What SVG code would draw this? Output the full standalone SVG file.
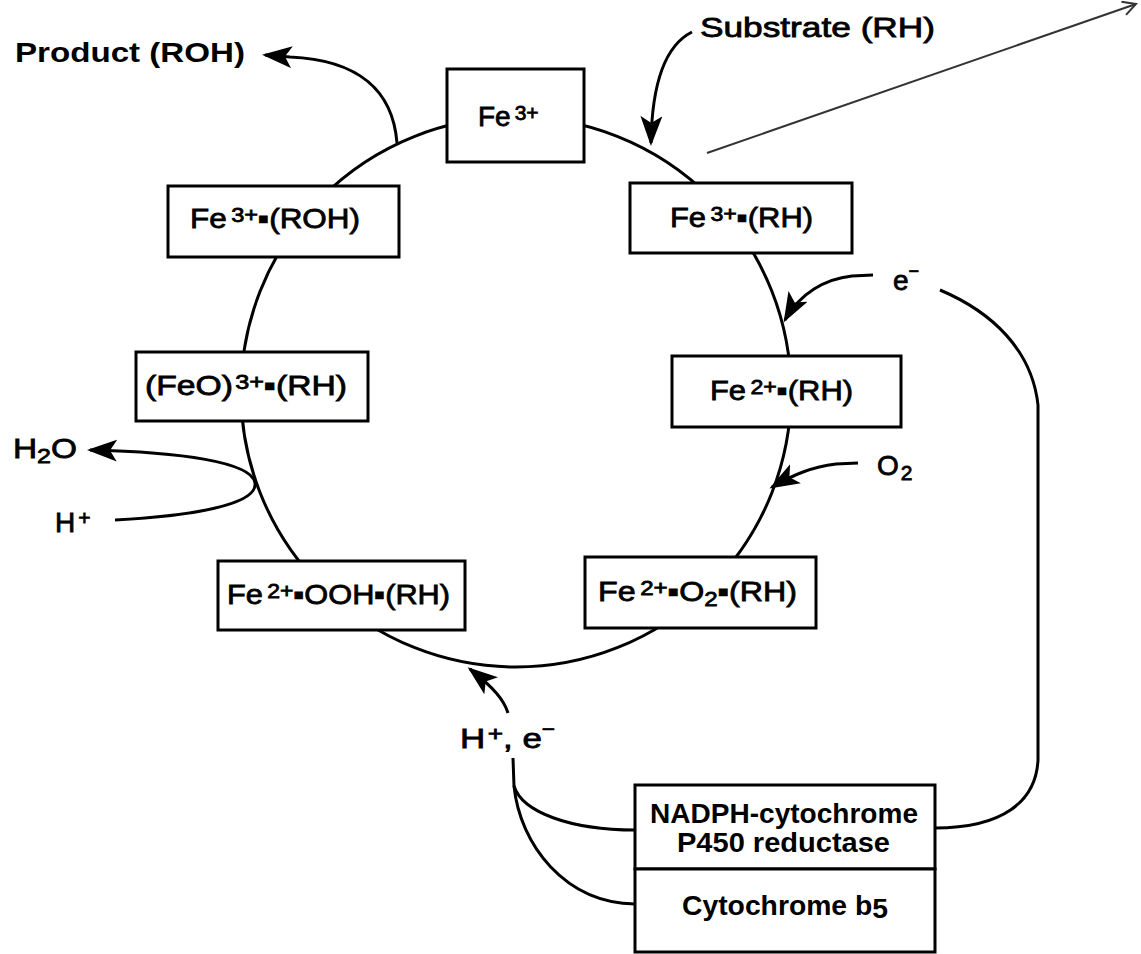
<svg xmlns="http://www.w3.org/2000/svg" width="1141" height="954" viewBox="0 0 1141 954">
<style>
  .box { fill: #fff; stroke: #000; stroke-width: 3; }
  .lbl { font-family: "Liberation Sans", Arial, sans-serif; font-size: 28px; fill: #000; stroke: #000; stroke-width: 0.8; }
  .bold { font-weight: bold; stroke: none; }
  .conn { fill: none; stroke: #000; stroke-width: 3; }
  .sup { font-size: 21px; }
</style>
<defs>
  <marker id="ah" markerUnits="userSpaceOnUse" markerWidth="32" markerHeight="24" refX="27" refY="11" orient="auto">
    <path d="M0,0 L30,11 L0,22 L7,11 Z" fill="#000"/>
  </marker>
  <marker id="open" markerUnits="userSpaceOnUse" markerWidth="20" markerHeight="20" refX="14" refY="8" orient="auto">
    <path d="M1,1 L14,8 L1,15" fill="none" stroke="#333" stroke-width="2"/>
  </marker>
</defs>

<g id="connectors">
  <circle class="conn" cx="516" cy="392" r="275"/>
  <path class="conn" d="M397,143 C393,92 360,60 290,57 L265,55" marker-end="url(#ah)"/>
  <path class="conn" d="M692,32 C668,44 652,78 651,143" marker-end="url(#ah)"/>
  <path d="M707,153 L1136,4" fill="none" stroke="#333" stroke-width="2" marker-end="url(#open)"/>
  <path class="conn" d="M873,275 L852,276 C825,279 800,293 785,320" marker-end="url(#ah)"/>
  <path class="conn" d="M940,290 C992,312 1032,350 1038,405 L1038,760 C1036,802 1002,828 935,828"/>
  <path class="conn" d="M858,463 L836,464 C812,467 795,474 772,487" marker-end="url(#ah)"/>
  <path class="conn" d="M115,520 C190,516 258,505 255,483 C252,462 180,452 90,450" marker-end="url(#ah)"/>
  <path class="conn" d="M508,713 C504,700 494,688 470,669" marker-end="url(#ah)"/>
  <path class="conn" d="M513,758 L514,786 C522,812 570,830 635,830"/>
  <path class="conn" d="M514,786 C520,845 565,903 635,904"/>
</g>

<g id="n-fe3">
  <rect class="box" x="447" y="69" width="137" height="93"/>
  <text class="lbl" x="478" y="126">Fe<tspan class="sup" dx="4" dy="-6">3+</tspan></text>
</g>
<g id="n-fe3-rh">
  <rect class="box" x="630" y="183" width="222" height="70"/>
  <text class="lbl" x="670" y="227" textLength="143" lengthAdjust="spacingAndGlyphs">Fe<tspan class="sup" dx="4" dy="-6">3+</tspan><tspan dy="6">▪(RH)</tspan></text>
</g>
<g id="n-fe2-rh">
  <rect class="box" x="672" y="356" width="229" height="71"/>
  <text class="lbl" x="710" y="400" textLength="143" lengthAdjust="spacingAndGlyphs">Fe<tspan class="sup" dx="4" dy="-6">2+</tspan><tspan dy="6">▪(RH)</tspan></text>
</g>
<g id="n-fe2-o2-rh">
  <rect class="box" x="585" y="557" width="231" height="71"/>
  <text class="lbl" x="598" y="601" textLength="199" lengthAdjust="spacingAndGlyphs">Fe<tspan class="sup" dx="4" dy="-6">2+</tspan><tspan dy="6">▪O</tspan><tspan class="sup" dy="5">2</tspan><tspan dy="-5">▪(RH)</tspan></text>
</g>
<g id="n-fe2-ooh-rh">
  <rect class="box" x="218" y="561" width="247" height="69"/>
  <text class="lbl" x="227" y="604" textLength="223" lengthAdjust="spacingAndGlyphs">Fe<tspan class="sup" dx="4" dy="-6">2+</tspan><tspan dy="6">▪OOH▪(RH)</tspan></text>
</g>
<g id="n-feo-rh">
  <rect class="box" x="136" y="352" width="232" height="69"/>
  <text class="lbl" x="145" y="395" textLength="202" lengthAdjust="spacingAndGlyphs">(FeO)<tspan class="sup" dx="2" dy="-6">3+</tspan><tspan dy="6">▪(RH)</tspan></text>
</g>
<g id="n-fe3-roh">
  <rect class="box" x="168" y="186" width="231" height="71"/>
  <text class="lbl" x="190" y="228" textLength="170" lengthAdjust="spacingAndGlyphs">Fe<tspan class="sup" dx="4" dy="-6">3+</tspan><tspan dy="6">▪(ROH)</tspan></text>
</g>
<g id="n-reductase">
  <rect class="box" x="635" y="785" width="300" height="84"/>
  <text class="lbl bold" x="650" y="823" font-size="25" textLength="268" lengthAdjust="spacingAndGlyphs">NADPH-cytochrome</text>
  <text class="lbl bold" x="677" y="852" font-size="25" textLength="213" lengthAdjust="spacingAndGlyphs">P450 reductase</text>
</g>
<g id="n-b5">
  <rect class="box" x="635" y="869" width="300" height="83"/>
  <text class="lbl bold" x="682" y="915" font-size="25" textLength="206" lengthAdjust="spacingAndGlyphs">Cytochrome b<tspan dy="3">5</tspan></text>
</g>

<g id="labels">
  <text class="lbl bold" x="15" y="62" textLength="230" lengthAdjust="spacingAndGlyphs">Product (ROH)</text>
  <text class="lbl" x="700" y="37" textLength="235" lengthAdjust="spacingAndGlyphs">Substrate (RH)</text>
  <text class="lbl" x="893" y="290">e<tspan font-size="18" dy="-13">−</tspan></text>
  <text class="lbl" x="877" y="475">O<tspan class="sup" dx="2" dy="5">2</tspan></text>
  <text class="lbl" x="13" y="458" textLength="64" lengthAdjust="spacingAndGlyphs">H<tspan class="sup" dy="5">2</tspan><tspan dy="-5">O</tspan></text>
  <text class="lbl" x="55" y="532">H<tspan class="sup" dx="3" dy="-7">+</tspan></text>
  <text class="lbl" x="460" y="748" textLength="95" lengthAdjust="spacingAndGlyphs">H<tspan class="sup" dx="2" dy="-7">+</tspan><tspan dy="7">, e</tspan><tspan font-size="18" dy="-13">−</tspan></text>
</g>
</svg>
